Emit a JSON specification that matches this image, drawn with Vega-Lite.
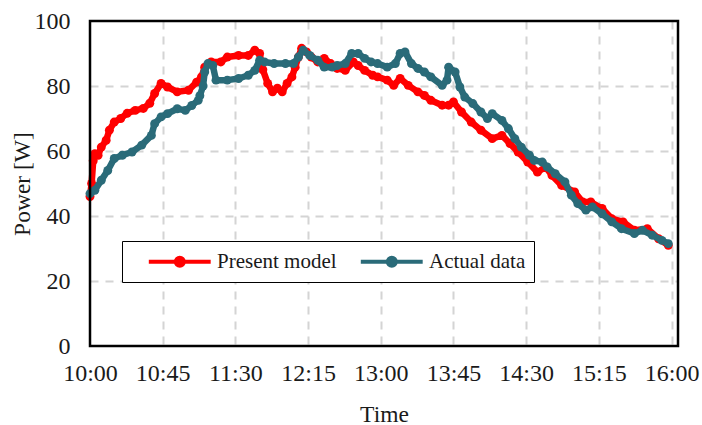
{
  "$schema": "https://vega.github.io/schema/vega-lite/v6.json",
  "width": 588,
  "height": 325,
  "autosize": {"type": "none"},
  "padding": {"left": 90, "top": 21, "right": 24, "bottom": 79},
  "background": "white",
  "config": {
    "font": "Liberation Serif, Times New Roman, serif",
    "view": {"stroke": null},
    "axis": {
      "labelFont": "Liberation Serif, Times New Roman, serif",
      "labelFontSize": 24,
      "labelColor": "#1a1a1a",
      "titleFont": "Liberation Serif, Times New Roman, serif",
      "titleFontSize": 23.5,
      "titleFontWeight": "normal",
      "titleColor": "#1a1a1a",
      "ticks": false,
      "domain": false,
      "gridColor": "#d4d4d4",
      "gridWidth": 2,
      "gridDash": [8, 7]
    }
  },
  "datasets": {
    "frame": [
      {"start": "10:00", "end": "16:04", "low": 0, "high": 100}
    ],
    "power": [
      {"series": "Present model", "t": "10:00", "power": 46},
      {"series": "Present model", "t": "10:01", "power": 50},
      {"series": "Present model", "t": "10:02", "power": 57},
      {"series": "Present model", "t": "10:03", "power": 59.2},
      {"series": "Present model", "t": "10:05", "power": 58.7},
      {"series": "Present model", "t": "10:07", "power": 61.2},
      {"series": "Present model", "t": "10:10", "power": 63.3},
      {"series": "Present model", "t": "10:12", "power": 66.4},
      {"series": "Present model", "t": "10:15", "power": 68.9},
      {"series": "Present model", "t": "10:19", "power": 70},
      {"series": "Present model", "t": "10:23", "power": 71.6},
      {"series": "Present model", "t": "10:28", "power": 72.5},
      {"series": "Present model", "t": "10:33", "power": 73.1},
      {"series": "Present model", "t": "10:37", "power": 74.7},
      {"series": "Present model", "t": "10:40", "power": 77.7},
      {"series": "Present model", "t": "10:44", "power": 80.8},
      {"series": "Present model", "t": "10:48", "power": 79.7},
      {"series": "Present model", "t": "10:54", "power": 78.2},
      {"series": "Present model", "t": "11:01", "power": 78.7},
      {"series": "Present model", "t": "11:06", "power": 81.2},
      {"series": "Present model", "t": "11:09", "power": 82.8},
      {"series": "Present model", "t": "11:11", "power": 85.8},
      {"series": "Present model", "t": "11:15", "power": 87.4},
      {"series": "Present model", "t": "11:21", "power": 87.4},
      {"series": "Present model", "t": "11:25", "power": 88.9},
      {"series": "Present model", "t": "11:32", "power": 89.4},
      {"series": "Present model", "t": "11:38", "power": 89.4},
      {"series": "Present model", "t": "11:42", "power": 91},
      {"series": "Present model", "t": "11:45", "power": 90},
      {"series": "Present model", "t": "11:47", "power": 85},
      {"series": "Present model", "t": "11:50", "power": 80.8},
      {"series": "Present model", "t": "11:53", "power": 78.2},
      {"series": "Present model", "t": "11:56", "power": 79.3},
      {"series": "Present model", "t": "11:59", "power": 78.2},
      {"series": "Present model", "t": "12:02", "power": 80.8},
      {"series": "Present model", "t": "12:05", "power": 82.8},
      {"series": "Present model", "t": "12:07", "power": 85.8},
      {"series": "Present model", "t": "12:09", "power": 88.9},
      {"series": "Present model", "t": "12:11", "power": 91.6},
      {"series": "Present model", "t": "12:14", "power": 90.5},
      {"series": "Present model", "t": "12:17", "power": 88.9},
      {"series": "Present model", "t": "12:21", "power": 87.4},
      {"series": "Present model", "t": "12:25", "power": 88.5},
      {"series": "Present model", "t": "12:29", "power": 86.9},
      {"series": "Present model", "t": "12:33", "power": 85.4},
      {"series": "Present model", "t": "12:38", "power": 84.8},
      {"series": "Present model", "t": "12:43", "power": 87.4},
      {"series": "Present model", "t": "12:46", "power": 86.3},
      {"series": "Present model", "t": "12:50", "power": 84.8},
      {"series": "Present model", "t": "12:55", "power": 83.3},
      {"series": "Present model", "t": "12:58", "power": 82.8},
      {"series": "Present model", "t": "13:04", "power": 81.8},
      {"series": "Present model", "t": "13:08", "power": 80.2},
      {"series": "Present model", "t": "13:12", "power": 82.3},
      {"series": "Present model", "t": "13:17", "power": 80.2},
      {"series": "Present model", "t": "13:23", "power": 78.2},
      {"series": "Present model", "t": "13:27", "power": 77.1},
      {"series": "Present model", "t": "13:31", "power": 75.6},
      {"series": "Present model", "t": "13:38", "power": 74.1},
      {"series": "Present model", "t": "13:42", "power": 74.1},
      {"series": "Present model", "t": "13:45", "power": 75.1},
      {"series": "Present model", "t": "13:50", "power": 72},
      {"series": "Present model", "t": "13:56", "power": 68.9},
      {"series": "Present model", "t": "14:02", "power": 66.4},
      {"series": "Present model", "t": "14:09", "power": 63.8},
      {"series": "Present model", "t": "14:15", "power": 64.8},
      {"series": "Present model", "t": "14:20", "power": 62.3},
      {"series": "Present model", "t": "14:25", "power": 59.7},
      {"series": "Present model", "t": "14:31", "power": 56.6},
      {"series": "Present model", "t": "14:37", "power": 53.5},
      {"series": "Present model", "t": "14:42", "power": 55.1},
      {"series": "Present model", "t": "14:46", "power": 52.5},
      {"series": "Present model", "t": "14:52", "power": 49.4},
      {"series": "Present model", "t": "15:00", "power": 47.4},
      {"series": "Present model", "t": "15:05", "power": 44.3},
      {"series": "Present model", "t": "15:10", "power": 44.3},
      {"series": "Present model", "t": "15:17", "power": 42.3},
      {"series": "Present model", "t": "15:23", "power": 39.2},
      {"series": "Present model", "t": "15:30", "power": 38.2},
      {"series": "Present model", "t": "15:37", "power": 35.6},
      {"series": "Present model", "t": "15:45", "power": 36.1},
      {"series": "Present model", "t": "15:52", "power": 33},
      {"series": "Present model", "t": "15:58", "power": 31},
      {"series": "Actual data", "t": "10:00", "power": 46.9},
      {"series": "Actual data", "t": "10:03", "power": 47.9},
      {"series": "Actual data", "t": "10:07", "power": 51},
      {"series": "Actual data", "t": "10:11", "power": 54},
      {"series": "Actual data", "t": "10:15", "power": 57.7},
      {"series": "Actual data", "t": "10:20", "power": 58.7},
      {"series": "Actual data", "t": "10:26", "power": 59.7},
      {"series": "Actual data", "t": "10:32", "power": 61.8},
      {"series": "Actual data", "t": "10:38", "power": 64.8},
      {"series": "Actual data", "t": "10:40", "power": 68.4},
      {"series": "Actual data", "t": "10:44", "power": 70.5},
      {"series": "Actual data", "t": "10:48", "power": 71.5},
      {"series": "Actual data", "t": "10:54", "power": 73},
      {"series": "Actual data", "t": "10:59", "power": 72.5},
      {"series": "Actual data", "t": "11:03", "power": 74},
      {"series": "Actual data", "t": "11:07", "power": 75.6},
      {"series": "Actual data", "t": "11:08", "power": 77},
      {"series": "Actual data", "t": "11:10", "power": 80},
      {"series": "Actual data", "t": "11:11", "power": 84.3},
      {"series": "Actual data", "t": "11:13", "power": 86.9},
      {"series": "Actual data", "t": "11:16", "power": 86.3},
      {"series": "Actual data", "t": "11:18", "power": 81.8},
      {"series": "Actual data", "t": "11:25", "power": 81.8},
      {"series": "Actual data", "t": "11:32", "power": 82.3},
      {"series": "Actual data", "t": "11:38", "power": 83.3},
      {"series": "Actual data", "t": "11:42", "power": 84.8},
      {"series": "Actual data", "t": "11:45", "power": 87.9},
      {"series": "Actual data", "t": "11:48", "power": 87.4},
      {"series": "Actual data", "t": "11:54", "power": 86.9},
      {"series": "Actual data", "t": "12:01", "power": 86.9},
      {"series": "Actual data", "t": "12:06", "power": 86.9},
      {"series": "Actual data", "t": "12:09", "power": 88.9},
      {"series": "Actual data", "t": "12:12", "power": 91},
      {"series": "Actual data", "t": "12:16", "power": 89.4},
      {"series": "Actual data", "t": "12:21", "power": 87.9},
      {"series": "Actual data", "t": "12:25", "power": 85.8},
      {"series": "Actual data", "t": "12:30", "power": 85.8},
      {"series": "Actual data", "t": "12:33", "power": 86.3},
      {"series": "Actual data", "t": "12:38", "power": 86.9},
      {"series": "Actual data", "t": "12:42", "power": 90},
      {"series": "Actual data", "t": "12:46", "power": 90},
      {"series": "Actual data", "t": "12:50", "power": 88.5},
      {"series": "Actual data", "t": "12:54", "power": 87.4},
      {"series": "Actual data", "t": "12:58", "power": 86.9},
      {"series": "Actual data", "t": "13:04", "power": 85.8},
      {"series": "Actual data", "t": "13:09", "power": 86.9},
      {"series": "Actual data", "t": "13:12", "power": 90},
      {"series": "Actual data", "t": "13:15", "power": 90.5},
      {"series": "Actual data", "t": "13:19", "power": 86.9},
      {"series": "Actual data", "t": "13:23", "power": 85.4},
      {"series": "Actual data", "t": "13:27", "power": 84.3},
      {"series": "Actual data", "t": "13:31", "power": 82.8},
      {"series": "Actual data", "t": "13:38", "power": 80.2},
      {"series": "Actual data", "t": "13:41", "power": 81.8},
      {"series": "Actual data", "t": "13:42", "power": 85.8},
      {"series": "Actual data", "t": "13:46", "power": 84.3},
      {"series": "Actual data", "t": "13:49", "power": 79.7},
      {"series": "Actual data", "t": "13:52", "power": 76.6},
      {"series": "Actual data", "t": "13:57", "power": 74.6},
      {"series": "Actual data", "t": "14:02", "power": 72},
      {"series": "Actual data", "t": "14:06", "power": 70},
      {"series": "Actual data", "t": "14:09", "power": 71.5},
      {"series": "Actual data", "t": "14:15", "power": 69.4},
      {"series": "Actual data", "t": "14:19", "power": 66.9},
      {"series": "Actual data", "t": "14:23", "power": 63.8},
      {"series": "Actual data", "t": "14:27", "power": 61.2},
      {"series": "Actual data", "t": "14:32", "power": 58.7},
      {"series": "Actual data", "t": "14:35", "power": 57.1},
      {"series": "Actual data", "t": "14:40", "power": 56.6},
      {"series": "Actual data", "t": "14:43", "power": 55.1},
      {"series": "Actual data", "t": "14:48", "power": 53},
      {"series": "Actual data", "t": "14:54", "power": 50.5},
      {"series": "Actual data", "t": "14:58", "power": 46.4},
      {"series": "Actual data", "t": "15:02", "power": 43.8},
      {"series": "Actual data", "t": "15:07", "power": 41.8},
      {"series": "Actual data", "t": "15:11", "power": 42.8},
      {"series": "Actual data", "t": "15:17", "power": 40.7},
      {"series": "Actual data", "t": "15:23", "power": 38.2},
      {"series": "Actual data", "t": "15:29", "power": 36.1},
      {"series": "Actual data", "t": "15:37", "power": 34.6},
      {"series": "Actual data", "t": "15:42", "power": 35.6},
      {"series": "Actual data", "t": "15:48", "power": 34.1},
      {"series": "Actual data", "t": "15:54", "power": 32.5},
      {"series": "Actual data", "t": "15:58", "power": 31.5}
    ]
  },
  "data": {"name": "power", "format": {"parse": {"t": "date:'%H:%M'"}}},
  "encoding": {
    "x": {
      "field": "t",
      "type": "temporal",
      "title": "Time",
      "scale": {
        "domain": [
          {"year": 1900, "month": 1, "date": 1, "hours": 10, "minutes": 0},
          {"year": 1900, "month": 1, "date": 1, "hours": 16, "minutes": 4}
        ]
      },
      "axis": {
        "format": "%H:%M",
        "values": [
          {"year": 1900, "month": 1, "date": 1, "hours": 10, "minutes": 0},
          {"year": 1900, "month": 1, "date": 1, "hours": 10, "minutes": 45},
          {"year": 1900, "month": 1, "date": 1, "hours": 11, "minutes": 30},
          {"year": 1900, "month": 1, "date": 1, "hours": 12, "minutes": 15},
          {"year": 1900, "month": 1, "date": 1, "hours": 13, "minutes": 0},
          {"year": 1900, "month": 1, "date": 1, "hours": 13, "minutes": 45},
          {"year": 1900, "month": 1, "date": 1, "hours": 14, "minutes": 30},
          {"year": 1900, "month": 1, "date": 1, "hours": 15, "minutes": 15},
          {"year": 1900, "month": 1, "date": 1, "hours": 16, "minutes": 0}
        ],
        "gridOpacity": {"condition": {"test": "hours(datum.value) === 10 && minutes(datum.value) === 0", "value": 0}, "value": 1},
        "labelPadding": 15,
        "titlePadding": 17,
        "labelFlush": false,
        "labelOverlap": false
      }
    },
    "y": {
      "field": "power",
      "type": "quantitative",
      "title": "Power [W]",
      "scale": {"domain": [0, 100], "nice": false},
      "axis": {
        "values": [0, 20, 40, 60, 80, 100],
        "gridOpacity": {"condition": {"test": "datum.value === 0 || datum.value === 100", "value": 0}, "value": 1},
        "labelPadding": 20,
        "titlePadding": 0
      }
    },
    "color": {
      "field": "series",
      "type": "nominal",
      "scale": {"domain": ["Present model", "Actual data"], "range": ["#ff0000", "#2a6b79"]},
      "legend": {
        "title": null,
        "orient": "none",
        "legendX": 32,
        "legendY": 220,
        "direction": "horizontal",
        "symbolType": "M0.61,0L6.6,0M4,0A0.39,0.39,0,1,1,3.22,0A0.39,0.39,0,1,1,4,0Z",
        "symbolSize": 427,
        "symbolStrokeWidth": 4,
        "labelFont": "Liberation Serif, Times New Roman, serif",
        "labelFontSize": 21,
        "labelColor": "#1a1a1a",
        "labelOffset": 62,
        "columnPadding": 5,
        "padding": 8,
        "strokeColor": "black",
        "fillColor": "white"
      }
    }
  },
  "layer": [
    {
      "transform": [{"filter": "datum.series === 'Present model'"}],
      "mark": {"type": "line", "strokeWidth": 6.5, "strokeJoin": "round"}
    },
    {
      "transform": [{"filter": "datum.series === 'Present model'"}],
      "mark": {"type": "point", "filled": true, "size": 80, "opacity": 1}
    },
    {
      "transform": [{"filter": "datum.series === 'Actual data'"}],
      "mark": {"type": "line", "strokeWidth": 6.5, "strokeJoin": "round"}
    },
    {
      "transform": [{"filter": "datum.series === 'Actual data'"}],
      "mark": {"type": "point", "filled": true, "size": 80, "opacity": 1}
    },
    {
      "data": {"name": "frame", "format": {"parse": {"start": "date:'%H:%M'", "end": "date:'%H:%M'"}}},
      "mark": {"type": "rect", "fill": null, "stroke": "black", "strokeWidth": 2.5},
      "encoding": {
        "x": {"field": "start", "type": "temporal"},
        "x2": {"field": "end"},
        "y": {"field": "low", "type": "quantitative"},
        "y2": {"field": "high"},
        "color": null
      }
    }
  ]
}
